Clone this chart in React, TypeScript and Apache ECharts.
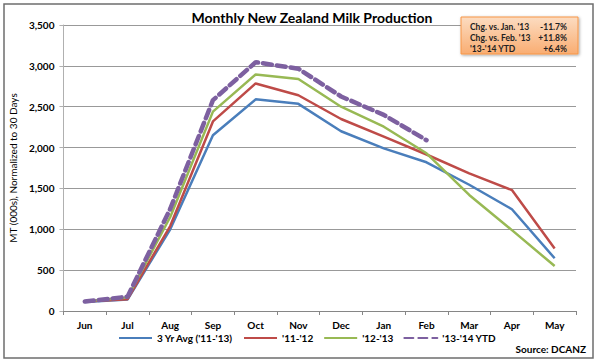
import React, { useEffect, useRef } from "react";
import * as echarts from "echarts";

const months = ["Jun", "Jul", "Aug", "Sep", "Oct", "Nov", "Dec", "Jan", "Feb", "Mar", "Apr", "May"];
const avg3 = [110, 140, 1000, 2150, 2590, 2535, 2200, 1990, 1820, 1545, 1245, 645];
const y1112 = [115, 145, 1040, 2320, 2785, 2640, 2350, 2135, 1915, 1685, 1480, 765];
const y1213 = [120, 165, 1150, 2440, 2895, 2840, 2500, 2255, 1930, 1420, 990, 550];
const y1314 = [115, 175, 1250, 2580, 3045, 2965, 2625, 2400, 2090, null, null, null];
const seriesNames = ["3 Yr Avg ('11-'13)", "'11-'12", "'12-'13", "'13-'14 YTD"];
const boxLabels = ["Chg. vs. Jan. '13", "Chg. vs. Feb. '13", "'13-'14 YTD"];
const boxValues = ["-11.7%", "+11.8%", "+6.4%"];

const FONT = "Lato, 'Open Sans', sans-serif";

export default function App() {
  const ref = useRef<HTMLDivElement>(null);
  useEffect(() => {
    document.body.style.margin = "0";
    const chart = echarts.init(ref.current!, null, { renderer: "svg" });
    const mk = (name: string, data: (number | null)[], color: string, width: number, dashed = false) => ({
      name,
      type: "line",
      data,
      symbol: "none",
      smooth: false,
      connectNulls: false,
      lineStyle: { color, width, type: dashed ? [9, 5] : "solid", cap: dashed ? "round" : "butt" },
      itemStyle: { color },
      z: dashed ? 5 : 3,
    });
    const boxTexts: any[] = [];
    boxLabels.forEach((t, i) => {
      boxTexts.push({
        type: "text",
        x: 470,
        y: 27 + i * 11,
        z: 20,
        style: { text: t, fill: "#222", font: `bold 8.5px ${FONT}`, textAlign: "left", textVerticalAlign: "middle" },
      });
      boxTexts.push({
        type: "text",
        x: 567,
        y: 27 + i * 11,
        z: 20,
        style: { text: boxValues[i], fill: "#222", font: `bold 8.5px ${FONT}`, textAlign: "right", textVerticalAlign: "middle" },
      });
    });
    chart.setOption({
      animation: false,
      backgroundColor: "#fff",
      title: {
        text: "Monthly New Zealand Milk Production",
        left: 307,
        textAlign: "center",
        top: 5,
        textStyle: { fontFamily: FONT, fontWeight: "bold", fontSize: 14, color: "#000" },
      },
      grid: { left: 57, right: 24, top: 25, bottom: 52, containLabel: false },
      xAxis: {
        type: "category",
        data: months,
        boundaryGap: true,
        axisLine: { lineStyle: { color: "#868686", width: 1 } },
        axisTick: { show: true, length: 4, lineStyle: { color: "#868686" } },
        axisLabel: { color: "#000", fontFamily: FONT, fontWeight: "bold", fontSize: 10, margin: 9 },
      },
      yAxis: {
        type: "value",
        min: 0,
        max: 3500,
        interval: 500,
        name: "MT (000s), Normalized to 30 Days",
        nameLocation: "middle",
        nameGap: 42,
        nameTextStyle: { fontFamily: FONT, fontSize: 10, color: "#000" },
        axisLine: { show: true, lineStyle: { color: "#b0b0b0" } },
        axisTick: { show: true, length: 4, inside: false, lineStyle: { color: "#b0b0b0" } },
        splitLine: { lineStyle: { color: "#999", width: 1 } },
        axisLabel: {
          color: "#000",
          fontFamily: FONT,
          fontWeight: "bold",
          fontSize: 10,
          margin: 9,
          formatter: (v: number) => v.toLocaleString("en-US"),
        },
      },
      legend: {
        bottom: 15,
        left: 113,
        itemWidth: 33,
        itemHeight: 4,
        itemGap: 10,
        itemStyle: { opacity: 0 },
        textStyle: { fontFamily: FONT, fontWeight: "bold", fontSize: 10, color: "#000" },
        data: seriesNames,
      },
      series: [
        mk(seriesNames[0], avg3, "#4a7ebb", 2.5),
        mk(seriesNames[1], y1112, "#be4b48", 2.5),
        mk(seriesNames[2], y1213, "#98b954", 2.5),
        mk(seriesNames[3], y1314, "#7d60a0", 4.5, true),
      ],
      graphic: [
        {
          type: "rect",
          shape: { x: 4, y: 4, width: 589, height: 354 },
          style: { fill: "none", stroke: "#6e6e6e", lineWidth: 1.5 },
          silent: true,
        },
        {
          type: "rect",
          shape: { x: 461, y: 17, width: 117, height: 37 },
          style: {
            fill: new echarts.graphic.LinearGradient(0, 0, 0, 1, [
              { offset: 0, color: "#fcdcc1" },
              { offset: 1, color: "#f9ad72" },
            ]),
            stroke: "#f79646",
            lineWidth: 1,
            shadowBlur: 3,
            shadowColor: "rgba(0,0,0,0.35)",
            shadowOffsetX: 1,
            shadowOffsetY: 1,
          },
          z: 10,
        },
        ...boxTexts,
        {
          type: "text",
          x: 586,
          y: 349,
          style: { text: "Source: DCANZ", fill: "#000", font: `bold 10px ${FONT}`, textAlign: "right", textVerticalAlign: "middle" },
          z: 10,
        },
      ],
    });
    return () => chart.dispose();
  }, []);
  return <div ref={ref} style={{ width: 600, height: 363 }} />;
}
